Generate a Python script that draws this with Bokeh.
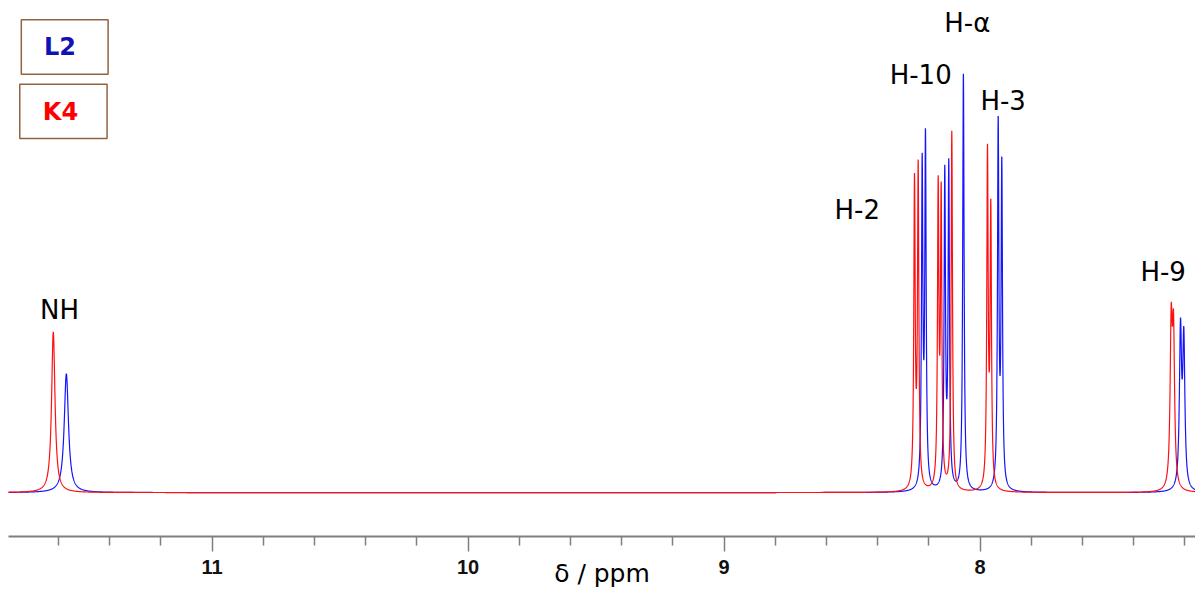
import numpy as np
from bokeh.plotting import figure
from bokeh.models import Range1d, FixedTicker, Label, BoxAnnotation
from bokeh.embed import file_html
from bokeh.resources import INLINE

# ---------------- data ----------------
# chemical shift axis (ppm, reversed)
major_ticks = [8, 9, 10, 11]
minor_ticks = [7.2, 7.4, 7.6, 7.8, 8.2, 8.4, 8.6, 8.8, 9.2, 9.4, 9.6, 9.8,
               10.2, 10.4, 10.6, 10.8, 11.2, 11.4, 11.6]
tick_labels = {8: "8", 9: "9", 10: "10", 11: "11"}
axis_title = "δ / ppm"

# L2 (blue) peak list: NH, H-2 (d), H-10 (d), H-alpha (s), H-3 (d), H-9 (d)
l2_shift = [11.569, 8.2262, 8.2133, 8.1379, 8.1223, 8.0652, 7.9293, 7.9152, 7.2172, 7.2043]
l2_height = [119, 320, 346, 314, 321, 419, 363, 320, 156, 146]
l2_hwhm = [0.010, 0.0032, 0.0032, 0.0032, 0.0032, 0.0032, 0.0032, 0.0032, 0.005, 0.005]

# K4 (red) peak list
k4_shift = [11.620, 8.2562, 8.2418, 8.1637, 8.1520, 8.1105, 7.9711, 7.9582, 7.2535, 7.2445]
k4_height = [161, 305, 319, 296, 288, 359, 333, 276, 155, 146]
k4_hwhm = [0.008, 0.0032, 0.0032, 0.0032, 0.0032, 0.0032, 0.0032, 0.0032, 0.005, 0.005]

# peak assignments
peak_labels = ["NH", "H-2", "H-10", "H-α", "H-3", "H-9"]
series_names = ["L2", "K4"]

# ---------------- styling / layout ----------------
X_START, X_END = 11.795, 7.1586
Y_START, Y_END = -44, 493
BLUE = "#1414ff"
RED = "#ff1010"

label_pos = [(11.596, 183), (8.480, 283), (8.232, 418), (8.050, 470), (7.910, 392), (7.285, 221)]

grid = np.arange(7.15, 11.81, 0.0005)


def spectrum(shifts, heights, widths):
    y = np.zeros_like(grid)
    for s, h, w in zip(shifts, heights, widths):
        y += h / (1.0 + ((grid - s) / w) ** 2)
    return y


p = figure(width=1195, height=590, output_backend="svg", toolbar_location=None,
           x_range=Range1d(X_START, X_END), y_range=Range1d(Y_START, Y_END),
           y_axis_type=None, min_border_left=8, min_border_right=0,
           min_border_top=0, min_border_bottom=53)
p.outline_line_color = None
p.xgrid.visible = False
p.background_fill_color = "white"
p.border_fill_color = "white"

p.line(grid, spectrum(l2_shift, l2_height, l2_hwhm), line_color=BLUE, line_width=1.2)
p.line(grid, spectrum(k4_shift, k4_height, k4_hwhm), line_color=RED, line_width=1.2)

ax = p.xaxis[0]
ax.ticker = FixedTicker(ticks=major_ticks, minor_ticks=minor_ticks)
ax.major_label_overrides = tick_labels
ax.axis_line_color = "#7f7f7f"
ax.axis_line_width = 2
ax.major_tick_line_color = "#7f7f7f"
ax.minor_tick_line_color = "#7f7f7f"
ax.major_tick_line_width = 1.5
ax.minor_tick_line_width = 1.5
ax.major_tick_in = 0
ax.major_tick_out = 15
ax.minor_tick_in = 0
ax.minor_tick_out = 9
ax.major_label_standoff = 8
ax.major_label_text_font = "Liberation Sans"
ax.major_label_text_font_style = "bold"
ax.major_label_text_font_size = "20px"
ax.major_label_text_color = "#111111"
ax.axis_label = axis_title
ax.axis_label_text_font = "DejaVu Sans"
ax.axis_label_text_font_style = "normal"
ax.axis_label_text_font_size = "25px"
ax.axis_label_text_color = "black"
ax.axis_label_standoff = -18

# peak labels
for txt, (lx, ly) in zip(peak_labels, label_pos):
    p.add_layout(Label(x=lx, y=ly, text=txt, text_font="DejaVu Sans", text_font_size="26px",
                       text_align="center", text_baseline="middle", text_color="black"))

# series boxes
boxes = [(11.745, 11.406, 473.7, 419.0), (11.751, 11.410, 409.0, 354.7)]
box_text = [(11.594, 446), (11.592, 381)]
box_colors = ["#1212b4", "#ff0000"]
for name, (l, r, t, b), (tx, ty), c in zip(series_names, boxes, box_text, box_colors):
    p.add_layout(BoxAnnotation(left=l, right=r, top=t, bottom=b, fill_alpha=0,
                               line_color="#93623f", line_width=1.5, line_alpha=1))
    p.add_layout(Label(x=tx, y=ty, text=name, text_font="DejaVu Sans", text_font_style="bold",
                       text_font_size="24px", text_align="center", text_baseline="middle",
                       text_color=c))

open("out.html", "w").write(file_html(p, INLINE))
